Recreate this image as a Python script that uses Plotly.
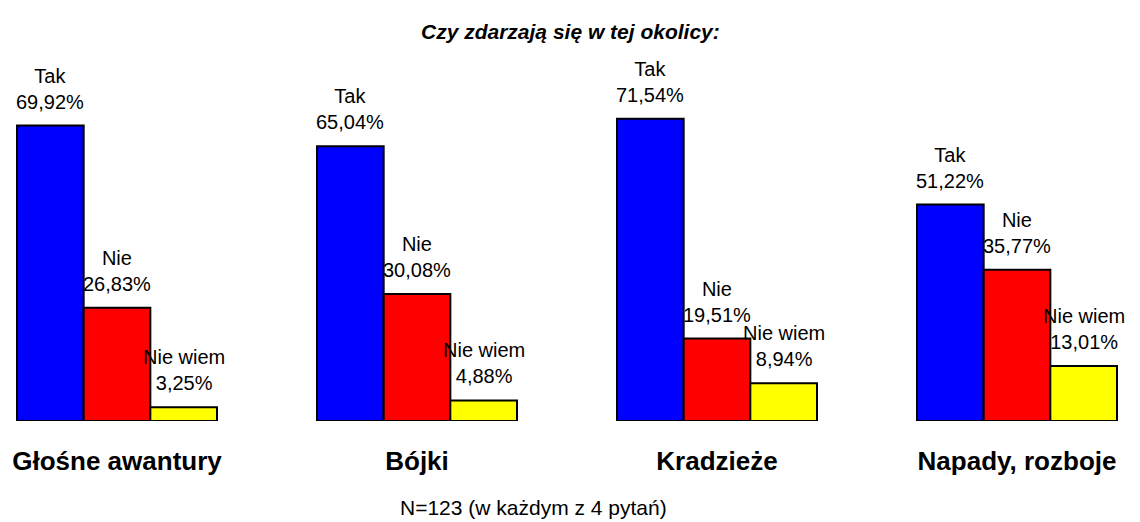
import plotly.graph_objects as go

categories = ["Głośne awantury", "Bójki", "Kradzieże", "Napady, rozboje"]
series_names = ["Tak", "Nie", "Nie wiem"]
tak = [69.92, 65.04, 71.54, 51.22]
nie = [26.83, 30.08, 19.51, 35.77]
nie_wiem = [3.25, 4.88, 8.94, 13.01]
colors = ["#0000FF", "#FF0000", "#FFFF00"]

series_values = [tak, nie, nie_wiem]
FONT = "Liberation Sans, Arial, sans-serif"

fig = go.Figure()
for name, vals, col in zip(series_names, series_values, colors):
    fig.add_trace(go.Bar(
        x=categories, y=vals, name=name,
        marker=dict(color=col, line=dict(color="black", width=2)),
        hoverinfo="skip",
    ))

n = len(series_names)
bargap = 1/3
bw = (1 - bargap) / n
annotations = []
for j, (name, vals) in enumerate(zip(series_names, series_values)):
    for i, v in enumerate(vals):
        annotations.append(dict(
            x=i + (j - (n - 1) / 2) * bw, y=v, xref="x", yref="y",
            text=f"{name}<br>{v:.2f}".replace(".", ",") + "%",
            showarrow=False, yanchor="bottom", yshift=11,
            font=dict(family=FONT, size=20, color="black"),
        ))

annotations.append(dict(
    text="Czy zdarzają się w tej okolicy:", x=0.5, y=1, xref="paper", yref="paper",
    yanchor="middle", yshift=52, showarrow=False,
    font=dict(family=FONT, size=21, color="black", weight="bold", style="italic"),
))
annotations.append(dict(
    text="N=123 (w każdym z 4 pytań)", x=0.468, y=0, xref="paper", yref="paper",
    yanchor="middle", yshift=-86, showarrow=False,
    font=dict(family=FONT, size=21, color="black"),
))

fig.update_layout(
    width=1140, height=522,
    barmode="group", bargap=bargap, bargroupgap=0,
    plot_bgcolor="white", paper_bgcolor="white",
    margin=dict(l=0, r=0, t=83, b=101),
    showlegend=False,
    annotations=annotations,
    xaxis=dict(range=[-0.39, 3.41], showline=False, showgrid=False, zeroline=False,
               ticks="", ticklabelstandoff=22,
               tickfont=dict(family=FONT, size=26, color="black", weight="bold")),
    yaxis=dict(range=[0, 80], visible=False),
)

fig.write_html("out.html", config={"displayModeBar": False},
               post_script="document.body.style.margin='0';")
